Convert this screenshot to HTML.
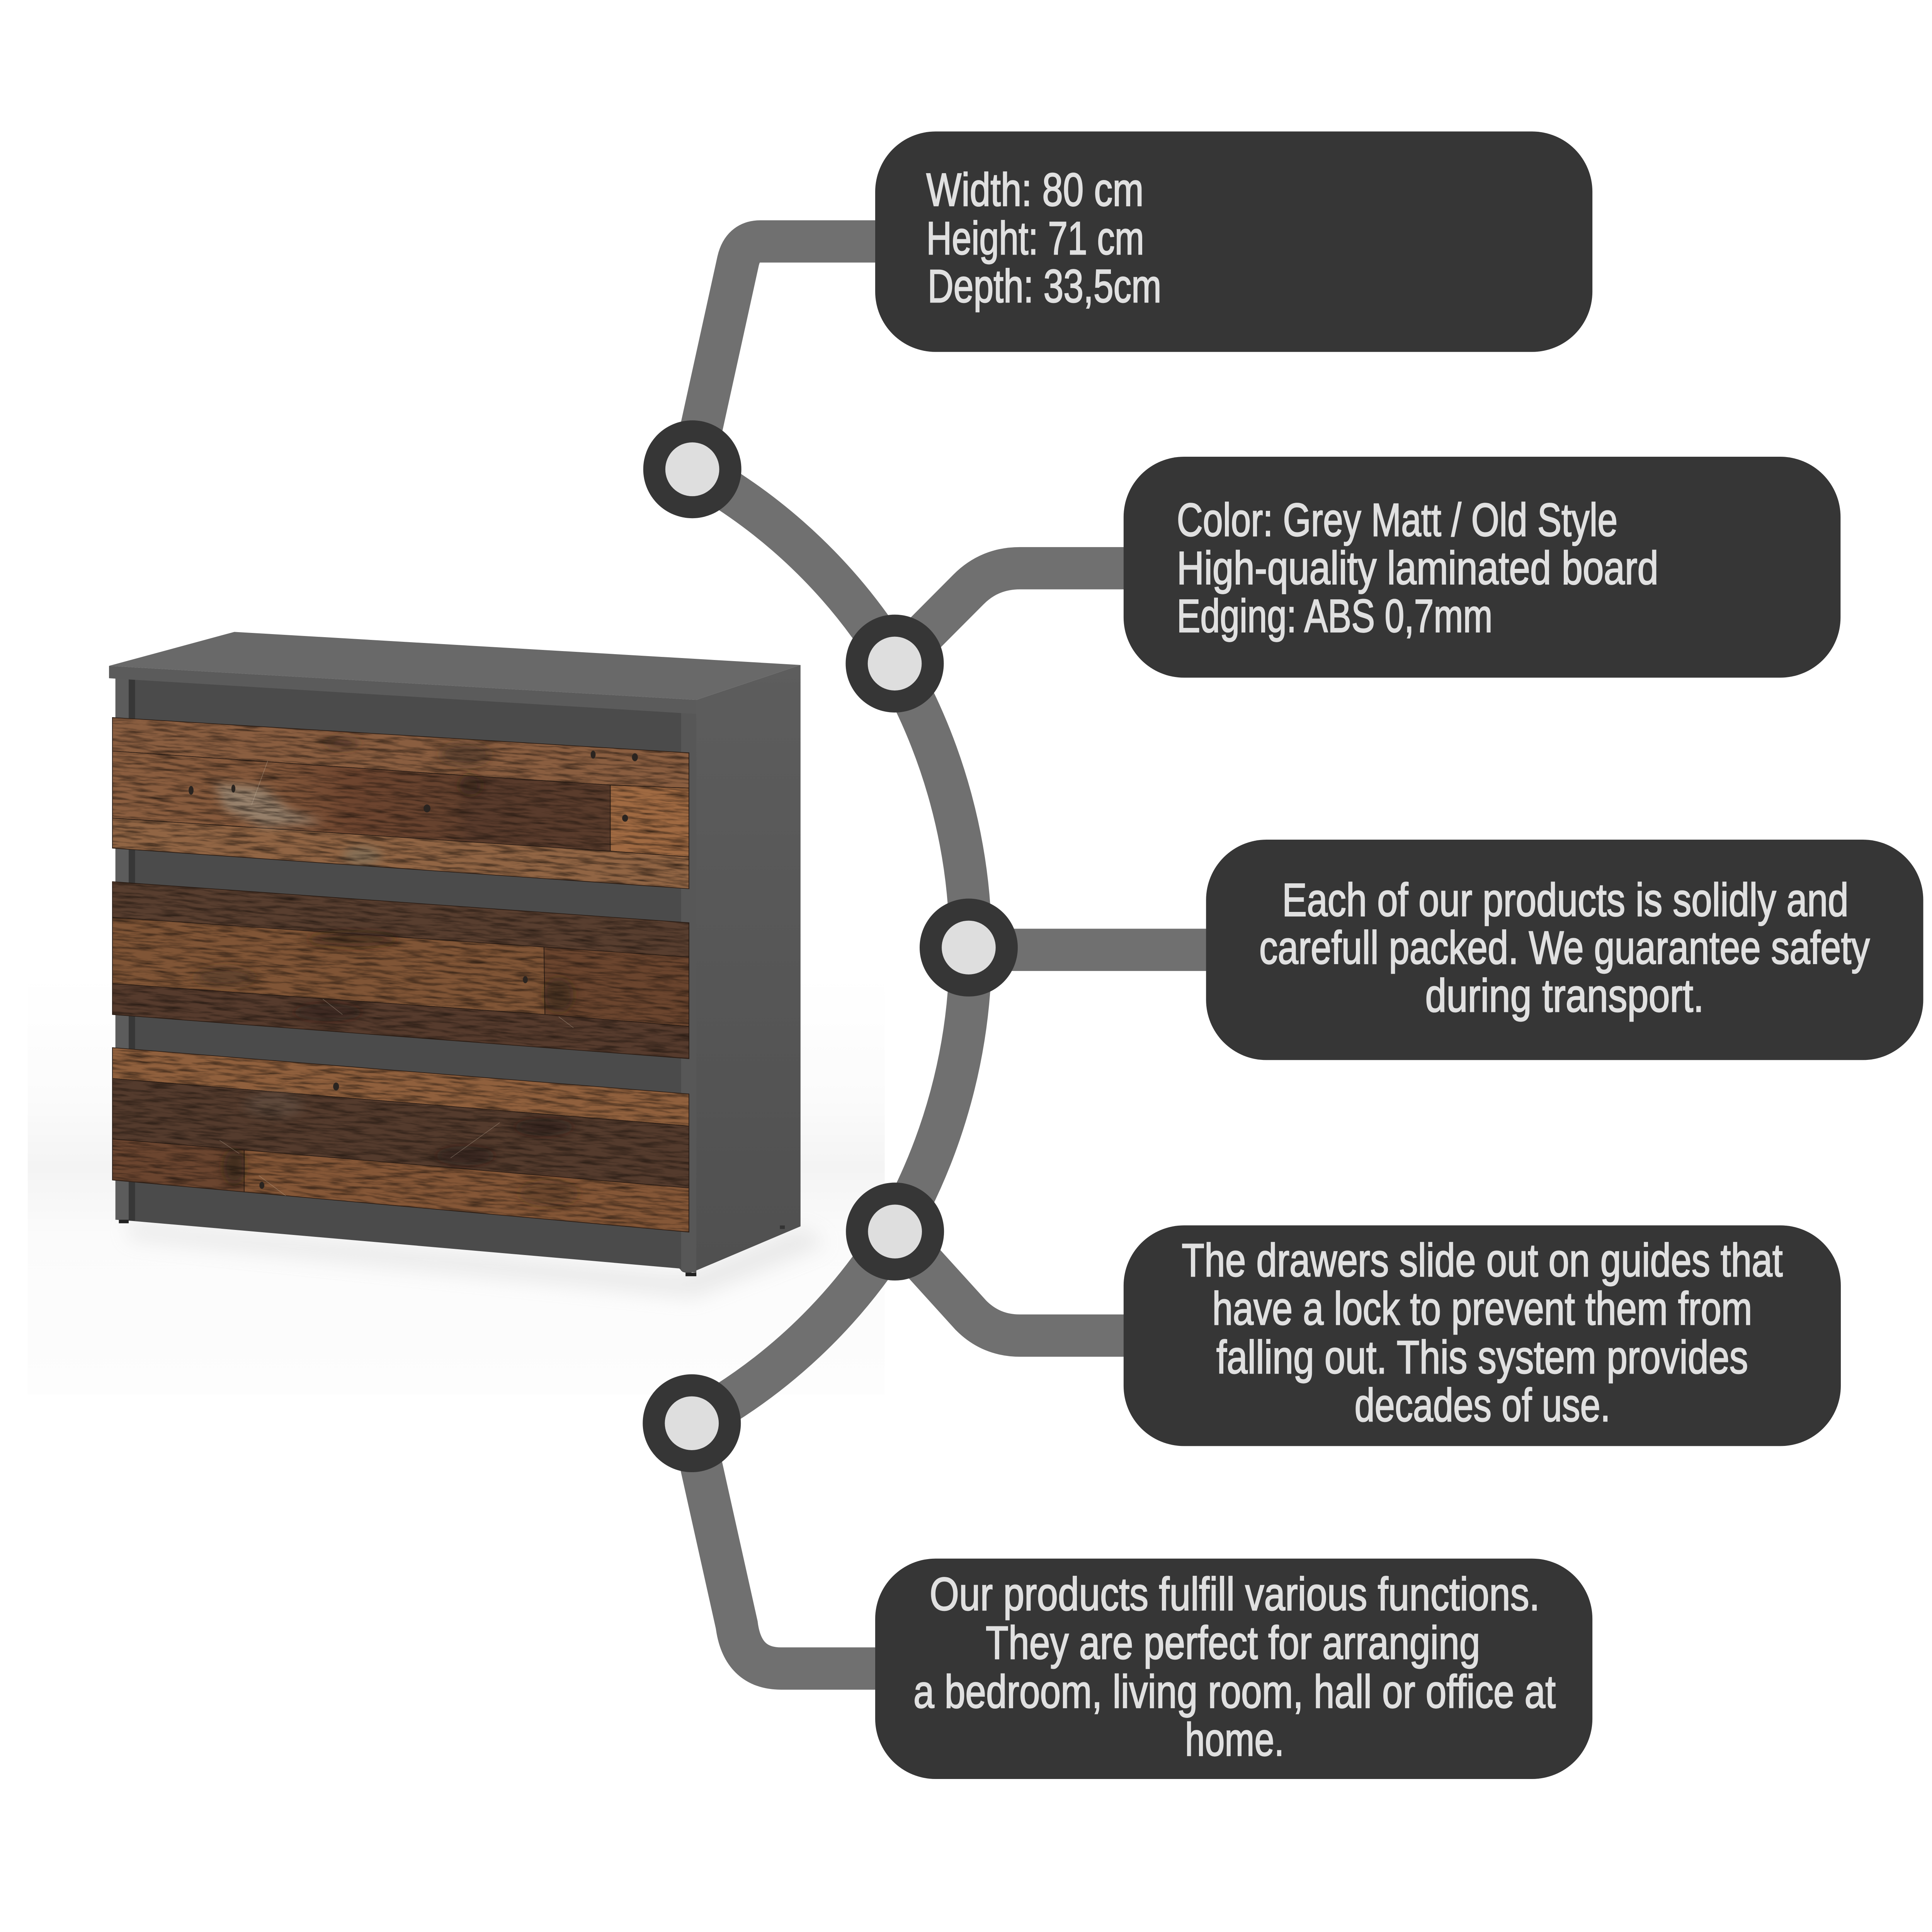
<!DOCTYPE html>
<html><head><meta charset="utf-8"><style>
html,body{margin:0;padding:0;background:#fff;width:100%;height:100%;overflow:hidden}
svg{display:block;position:fixed;left:0;top:0;width:100vw;height:100vh}
text{font-family:"Liberation Sans Narrow","Liberation Sans",sans-serif;font-size:182px;fill:#e0e0e0;stroke:#e0e0e0;stroke-width:4px}
</style></head><body>
<svg xmlns="http://www.w3.org/2000/svg" viewBox="0 0 7521 7538" preserveAspectRatio="none">
<defs>
<linearGradient id="bg" x1="0" y1="0" x2="0" y2="1">
<stop offset="0" stop-color="#fff"/><stop offset=".3" stop-color="#fbfbfb"/><stop offset=".46" stop-color="#f4f4f4"/><stop offset=".62" stop-color="#fbfbfb"/><stop offset="1" stop-color="#fdfdfd"/>
</linearGradient>
<linearGradient id="side" x1="0" y1="0" x2="0" y2="1">
<stop offset="0" stop-color="#5d5d5d"/><stop offset="1" stop-color="#505050"/>
</linearGradient>
<linearGradient id="mid1" gradientUnits="userSpaceOnUse" x1="72" y1="0" x2="1085" y2="0">
<stop offset="0" stop-color="#8c5f40"/><stop offset=".32" stop-color="#84583b"/><stop offset=".48" stop-color="#6e452f"/><stop offset=".69" stop-color="#64412e"/><stop offset=".72" stop-color="#583a2b"/><stop offset="1" stop-color="#5a3c2c"/>
</linearGradient>
<filter id="blur" x="-20%" y="-50%" width="140%" height="200%"><feGaussianBlur stdDeviation="40"/></filter>
<filter id="soft" x="-50%" y="-50%" width="200%" height="200%"><feGaussianBlur stdDeviation="10"/></filter>
<filter id="grain" x="0" y="0" width="100%" height="100%" filterUnits="objectBoundingBox" primitiveUnits="userSpaceOnUse" color-interpolation-filters="sRGB">
<feTurbulence type="fractalNoise" baseFrequency="0.018 0.14" numOctaves="4" seed="7"/>
<feColorMatrix type="matrix" values="0 0 0 0 0.1  0 0 0 0 0.07  0 0 0 0 0.05  1.5 0 0 0 -0.62"/>
</filter>
<clipPath id="drawers">
<polygon points="72,232 1245,312 1245,620 72,528"/>
<polygon points="72,604 1245,697 1245,1005 72,905"/>
<polygon points="72,980 1245,1085 1245,1398 72,1280"/>
</clipPath>
</defs>

<rect x="108" y="3800" width="3336" height="1640" fill="url(#bg)"/>
<polygon points="500,4770 2660,4975 3120,4790 3220,4850 2700,5060 500,4830" fill="#b5b5b5" opacity=".28" filter="url(#blur)"/>

<!-- chest -->
<g transform="translate(300,2400) scale(1.9133,1.7219)">
<polygon points="1225,192 1260,192 1472,113 1472,1385 1245,1492 1232,1488 1225,1480" fill="url(#side)"/>
<polygon points="105,135 1232,215 1232,1481 105,1372" fill="#4b4b4b"/>
<polygon points="1229,215 1260,215 1260,1490 1229,1486" fill="#575757"/>
<polygon points="78,135 105,135 105,1372 78,1370" fill="#5c5c5c"/>
<polygon points="105,135 118,135 118,1372 105,1372" fill="#373737"/>
<rect x="85" y="1370" width="20" height="8" fill="#222"/>
<rect x="1238" y="1490" width="22" height="8" fill="#222"/>
<rect x="1430" y="1383" width="10" height="8" fill="#333"/>
<polygon points="65,115 320,38 1472,113 1260,192" fill="#696969"/>
<polygon points="65,115 1260,192 1260,224 65,143" fill="#5b5b5b"/>

<g stroke="#2c1e16" stroke-width="1.5">
<polygon points="72,232 1245,312 1245,392 1085,385 770,362 72,308" fill="#8a5e40"/>
<polygon points="72,308 770,362 1085,385 1085,535 72,460" fill="url(#mid1)"/>
<polygon points="1085,385 1245,392 1245,548 1085,535" fill="#a06a42"/>
<polygon points="72,460 1085,535 1245,548 1245,620 72,528" fill="#916544"/>

<polygon points="72,604 1245,697 1245,775 950,752 72,685" fill="#583e2f"/>
<polygon points="72,685 950,752 952,905 72,835" fill="#805536"/>
<polygon points="950,752 1245,775 1245,932 952,905" fill="#6b452e"/>
<polygon points="72,835 952,905 1245,932 1245,1005 72,905" fill="#563b2d"/>

<polygon points="72,980 1245,1085 1245,1158 1215,1155 72,1050" fill="#90603d"/>
<polygon points="72,1050 1215,1155 1245,1158 1245,1298 340,1212 72,1187" fill="#543b2d"/>
<polygon points="72,1187 340,1212 340,1307 72,1280" fill="#6b452f"/>
<polygon points="340,1212 1245,1298 1245,1398 340,1307" fill="#855737"/>
</g>
<g clip-path="url(#drawers)">
<g filter="url(#soft)">
<polygon points="280,380 380,390 430,440 500,470 380,480 300,440" fill="#a39c8c" opacity=".6"/>
<ellipse cx="540" cy="290" rx="35" ry="14" fill="#3a2a20" opacity=".55"/>
<ellipse cx="790" cy="315" rx="50" ry="26" fill="#3a2a20" opacity=".5"/>
<ellipse cx="800" cy="385" rx="22" ry="22" fill="#2e2018" opacity=".6"/>
<ellipse cx="580" cy="545" rx="38" ry="22" fill="#7a7a6a" opacity=".5"/>
<ellipse cx="560" cy="735" rx="90" ry="16" fill="#2e2018" opacity=".6"/>
<ellipse cx="300" cy="820" rx="60" ry="22" fill="#3a2a20" opacity=".45"/>
<ellipse cx="980" cy="860" rx="30" ry="40" fill="#2e2018" opacity=".5"/>
<ellipse cx="510" cy="900" rx="70" ry="20" fill="#231710" opacity=".5"/>
<ellipse cx="950" cy="1160" rx="60" ry="20" fill="#231710" opacity=".55"/>
<ellipse cx="790" cy="1225" rx="60" ry="22" fill="#231710" opacity=".55"/>
<ellipse cx="320" cy="1250" rx="22" ry="40" fill="#2a1c14" opacity=".6"/>
<ellipse cx="400" cy="1110" rx="60" ry="30" fill="#7d7468" opacity=".25"/>
<ellipse cx="960" cy="1310" rx="60" ry="30" fill="#3a2a20" opacity=".35"/>
</g>
<rect x="-40" y="120" width="1400" height="1400" filter="url(#grain)" transform="rotate(4.4 660 800)"/>
<g stroke="#c7b9a4" stroke-width="1" opacity=".45" fill="none">
<path d="M388,330 L355,430"/><path d="M290,1190 L330,1220"/><path d="M370,1270 L430,1320"/><path d="M760,1230 L860,1150"/><path d="M980,910 L1010,935"/><path d="M500,870 L540,905"/>
</g>
</g>
<g fill="#2a2420">
<ellipse cx="232" cy="397" rx="5" ry="10"/><ellipse cx="318" cy="393" rx="4" ry="9"/>
<ellipse cx="1115" cy="460" rx="6" ry="8"/><ellipse cx="1050" cy="316" rx="5" ry="9"/><ellipse cx="1135" cy="322" rx="6" ry="9"/>
<ellipse cx="912" cy="826" rx="5" ry="8"/><ellipse cx="376" cy="1292" rx="5" ry="8"/><ellipse cx="527" cy="1068" rx="6" ry="9"/>
<ellipse cx="712" cy="438" rx="7" ry="9"/>
</g>
</g>

<!-- connectors -->
<g fill="none" stroke="#707070" stroke-width="165">
<path d="M2695,1831 A2100,2100 0 0 1 3483,2589 A2228,2228 0 0 1 3484,4805 A2100,2100 0 0 1 2693,5553"/>
<path d="M3450,942 H2960 Q2890,942 2873,1020 L2695,1831"/>
<path d="M4420,2217 H3970 Q3852,2217 3770,2300 L3483,2589"/>
<path d="M3771,3706 H4740"/>
<path d="M4420,5211 H3970 Q3858,5211 3780,5132 L3484,4805"/>
<path d="M3450,6510 H3040 Q2890,6510 2868,6340 L2693,5553"/>
</g>

<!-- nodes -->
<g fill="#363636">
<circle cx="2695" cy="1831" r="191"/><circle cx="3483" cy="2589" r="191"/><circle cx="3771" cy="3697" r="191"/><circle cx="3484" cy="4805" r="191"/><circle cx="2693" cy="5553" r="191"/>
</g>
<g fill="#dedede">
<circle cx="2695" cy="1831" r="105"/><circle cx="3483" cy="2589" r="105"/><circle cx="3771" cy="3697" r="105"/><circle cx="3484" cy="4805" r="105"/><circle cx="2693" cy="5553" r="105"/>
</g>

<!-- boxes -->
<g fill="#363636">
<rect x="3407" y="513" width="2792" height="860" rx="235" ry="235"/>
<rect x="4374" y="1782" width="2791" height="862" rx="235" ry="235"/>
<rect x="4695" y="3276" width="2792" height="860" rx="235" ry="235"/>
<rect x="4374" y="4781" width="2792" height="861" rx="235" ry="235"/>
<rect x="3407" y="6081" width="2792" height="860" rx="235" ry="235"/>
</g>

<!-- text -->
<text x="3606" y="803" textLength="846" lengthAdjust="spacingAndGlyphs">Width: 80 cm</text>
<text x="3606" y="992" textLength="848" lengthAdjust="spacingAndGlyphs">Height: 71 cm</text>
<text x="3611" y="1179" textLength="910" lengthAdjust="spacingAndGlyphs">Depth: 33,5cm</text>

<text x="4581" y="2091" textLength="1716" lengthAdjust="spacingAndGlyphs">Color: Grey Matt / Old Style</text>
<text x="4581" y="2279" textLength="1875" lengthAdjust="spacingAndGlyphs">High-quality laminated board</text>
<text x="4581" y="2466" textLength="1229" lengthAdjust="spacingAndGlyphs">Edging: ABS 0,7mm</text>

<text x="4991" y="3574" textLength="2205" lengthAdjust="spacingAndGlyphs">Each of our products is solidly and</text>
<text x="4902" y="3760" textLength="2377" lengthAdjust="spacingAndGlyphs">carefull packed. We guarantee safety</text>
<text x="5548" y="3947" textLength="1085" lengthAdjust="spacingAndGlyphs">during transport.</text>

<text x="4600" y="4980" textLength="2340" lengthAdjust="spacingAndGlyphs">The drawers slide out on guides that</text>
<text x="4719" y="5168" textLength="2102" lengthAdjust="spacingAndGlyphs">have a lock to prevent them from</text>
<text x="4735" y="5358" textLength="2070" lengthAdjust="spacingAndGlyphs">falling out. This system provides</text>
<text x="5273" y="5545" textLength="996" lengthAdjust="spacingAndGlyphs">decades of use.</text>

<text x="3619" y="6282" textLength="2375" lengthAdjust="spacingAndGlyphs">Our products fulfill various functions.</text>
<text x="3837" y="6472" textLength="1925" lengthAdjust="spacingAndGlyphs">They are perfect for arranging</text>
<text x="3556" y="6663" textLength="2500" lengthAdjust="spacingAndGlyphs">a bedroom, living room, hall or office at</text>
<text x="4613" y="6850" textLength="386" lengthAdjust="spacingAndGlyphs">home.</text>
</svg>
</body></html>
